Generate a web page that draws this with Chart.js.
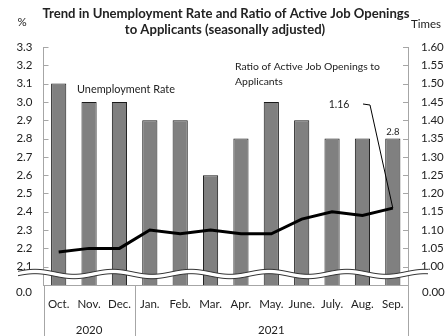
<!DOCTYPE html>
<html>
<head>
<meta charset="utf-8">
<script src="https://cdn.jsdelivr.net/npm/chart.js@4/dist/chart.umd.min.js"></script>
<style>
  html, body { margin: 0; padding: 0; background: #fff; }
  #wrap { width: 448px; height: 336px; }
</style>
</head>
<body>
<div id="wrap"><canvas id="myChart" width="448" height="336"></canvas></div>
<script>
// chart data
var months = ['Oct.', 'Nov.', 'Dec.', 'Jan.', 'Feb.', 'Mar.', 'Apr.', 'May.', 'June.', 'July.', 'Aug.', 'Sep.'];
var unemploymentRate = [3.1, 3.0, 3.0, 2.9, 2.9, 2.6, 2.8, 3.0, 2.9, 2.8, 2.8, 2.8];
var jobRatio = [1.04, 1.05, 1.05, 1.10, 1.09, 1.10, 1.09, 1.09, 1.13, 1.15, 1.14, 1.16];
var years = ['2020', '2021'];
var monthsPerYear = [3, 9];

var FONT = 'Lato, "Open Sans", sans-serif';
var AXIS_GREY = '#a6a6a6';

// pick a font size so that the text spans about the given width
function fitFont(ctx, text, weight, width, base) {
    ctx.font = weight + ' ' + base + 'px ' + FONT;
    var size = base * width / ctx.measureText(text).width;
    ctx.font = weight + ' ' + size.toFixed(2) + 'px ' + FONT;
}

// draws the bits Excel gives for free: inside ticks, year row, broken axis, notes
var extras = {
    id: 'extras',
    afterDraw: function(chart) {
        var ctx = chart.ctx;
        var area = chart.chartArea;
        var x = chart.scales.x, y = chart.scales.y, y1 = chart.scales.y1;

        ctx.save();
        ctx.strokeStyle = AXIS_GREY;
        ctx.lineWidth = 1;

        // inside tick marks
        y.ticks.forEach(function(t) {
            if (t.value < 2.05) return;
            var py = Math.round(y.getPixelForValue(t.value)) + 0.5;
            ctx.beginPath();
            ctx.moveTo(area.left, py);
            ctx.lineTo(area.left + 5, py);
            ctx.stroke();
        });
        y1.ticks.forEach(function(t) {
            if (t.value < 0.975) return;
            var py = Math.round(y1.getPixelForValue(t.value)) + 0.5;
            ctx.beginPath();
            ctx.moveTo(area.right - 5, py);
            ctx.lineTo(area.right, py);
            ctx.stroke();
        });

        // year row separators
        var seps = [area.left];
        var idx = 0;
        monthsPerYear.forEach(function(n, i) {
            idx += n;
            if (i < monthsPerYear.length - 1) {
                seps.push((x.getPixelForValue(idx - 1) + x.getPixelForValue(idx)) / 2);
            }
        });
        seps.push(area.right);
        seps.forEach(function(sx) {
            var px = Math.round(sx) + 0.5;
            ctx.beginPath();
            ctx.moveTo(px, area.bottom);
            ctx.lineTo(px, chart.height);
            ctx.stroke();
        });

        ctx.fillStyle = '#222';
        ctx.font = '11.5px ' + FONT;
        ctx.textAlign = 'center';
        ctx.textBaseline = 'middle';
        years.forEach(function(yr, i) {
            ctx.fillText(yr, (seps[i] + seps[i + 1]) / 2, 330);
        });

        // broken axis wave
        var cy = area.bottom - 11, amp = 2.5, period = 78, half = 2.2;
        function wave(off) {
            ctx.beginPath();
            for (var wx = 18; wx <= 428; wx++) {
                var wy = cy + off - amp * Math.cos(2 * Math.PI * (wx - 113) / period);
                if (wx === 18) ctx.moveTo(wx, wy); else ctx.lineTo(wx, wy);
            }
        }
        wave(0);
        ctx.strokeStyle = '#fff';
        ctx.lineWidth = half * 2;
        ctx.stroke();
        ctx.strokeStyle = '#333';
        ctx.lineWidth = 1;
        wave(-half); ctx.stroke();
        wave(half); ctx.stroke();

        // zero labels below the break
        ctx.fillStyle = '#222';
        ctx.font = '11.5px ' + FONT;
        ctx.textAlign = 'right';
        ctx.fillText('0.0', 32, 292);
        ctx.textAlign = 'left';
        ctx.fillText('0.00', 422, 292);

        // title and units
        ctx.textAlign = 'center';
        var t1 = 'Trend in Unemployment Rate and Ratio of Active Job Openings';
        fitFont(ctx, t1, 'bold', 367, 12);
        ctx.fillText(t1, 226, 14);
        ctx.fillText('to Applicants (seasonally adjusted)', 225, 30);
        ctx.font = '11.5px ' + FONT;
        ctx.fillText('%', 22, 22);
        ctx.fillText('Times', 426, 24);

        // series notes
        ctx.textAlign = 'left';
        fitFont(ctx, 'Unemployment Rate', 'normal', 98, 10);
        ctx.fillText('Unemployment Rate', 77, 89);
        fitFont(ctx, 'Ratio of Active Job Openings to', 'normal', 145, 10);
        ctx.fillText('Ratio of Active Job Openings to', 235, 67);
        ctx.fillText('Applicants', 235, 82);

        var last = months.length - 1;
        var bx = x.getPixelForValue(last);
        ctx.textAlign = 'center';
        ctx.font = '9.5px ' + FONT;
        ctx.fillText(unemploymentRate[last].toFixed(1), bx, y.getPixelForValue(unemploymentRate[last]) - 7);

        var ly = y1.getPixelForValue(jobRatio[last]);
        ctx.font = '10.5px ' + FONT;
        ctx.fillText(jobRatio[last].toFixed(2), 339, 105);
        ctx.strokeStyle = '#000';
        ctx.lineWidth = 1;
        ctx.beginPath();
        ctx.moveTo(363, 104);
        ctx.lineTo(370, 105);
        ctx.lineTo(bx, ly);
        ctx.stroke();

        ctx.restore();
    }
};

var ctx = document.getElementById('myChart');

var myChart = new Chart(ctx, {
    type: 'bar',
    data: {
        labels: months,
        datasets: [{
            type: 'line',
            label: 'Ratio of Active Job Openings to Applicants',
            data: jobRatio,
            yAxisID: 'y1',
            borderColor: '#000',
            borderWidth: 3,
            pointRadius: 0,
            tension: 0,
            order: 0
        }, {
            label: 'Unemployment Rate',
            data: unemploymentRate,
            yAxisID: 'y',
            backgroundColor: '#808080',
            borderColor: '#1a1a1a',
            borderWidth: 1,
            barPercentage: 0.5,
            categoryPercentage: 1.0,
            order: 1
        }]
    },
    options: {
        responsive: false,
        animation: false,
        devicePixelRatio: 1,
        layout: { padding: { top: 47, left: 0, right: 0, bottom: 0 } },
        plugins: {
            legend: { display: false },
            tooltip: { enabled: false },
            title: { display: false }
        },
        scales: {
            x: {
                grid: { display: false, drawTicks: false },
                border: { display: true, color: AXIS_GREY },
                ticks: { color: '#222', font: { family: FONT, size: 11.5 }, padding: 12, maxRotation: 0, autoSkip: false },
                afterFit: function(s) { s.height = 51; }
            },
            y: {
                position: 'left',
                min: 2.0,
                max: 3.3,
                grid: { display: false, drawTicks: false },
                border: { display: true, color: AXIS_GREY },
                ticks: {
                    stepSize: 0.1,
                    padding: 11,
                    color: '#222',
                    font: { family: FONT, size: 11.5 },
                    callback: function(v) { return v < 2.05 ? '' : v.toFixed(1); }
                },
                afterFit: function(s) { s.width = 43.5; }
            },
            y1: {
                position: 'right',
                min: 0.95,
                max: 1.60,
                grid: { display: false, drawTicks: false },
                border: { display: true, color: AXIS_GREY },
                ticks: {
                    stepSize: 0.05,
                    padding: 13,
                    color: '#222',
                    font: { family: FONT, size: 11.5 },
                    callback: function(v) { return v < 0.975 ? '' : v.toFixed(2); }
                },
                afterFit: function(s) { s.width = 40; }
            }
        }
    },
    plugins: [extras]
});
</script>
</body>
</html>
